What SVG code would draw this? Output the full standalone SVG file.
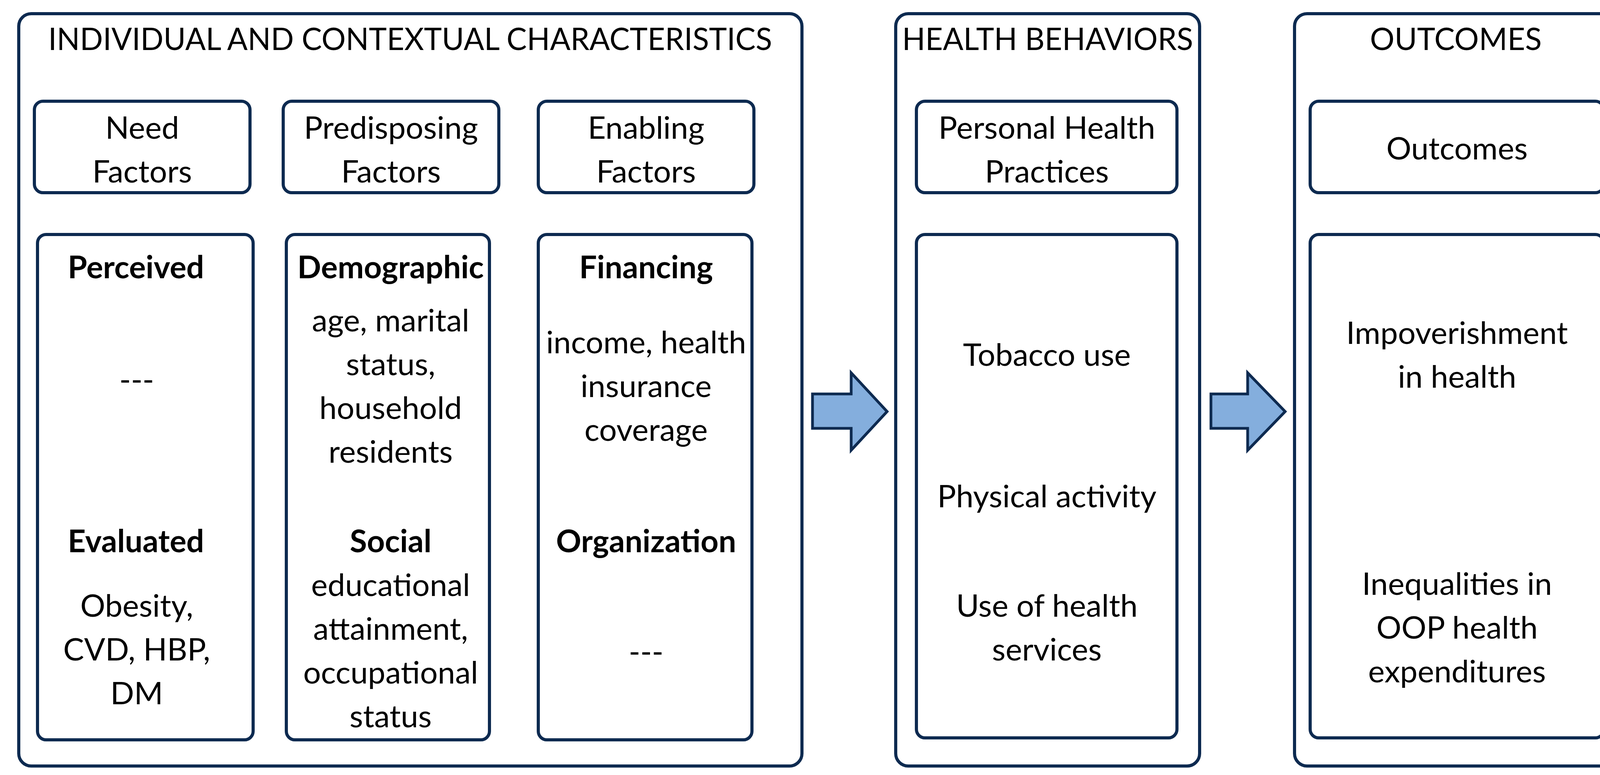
<svg xmlns="http://www.w3.org/2000/svg" width="4180" height="1983" viewBox="0 0 4180 1983">
<style>
.b{fill:#fff;stroke:#0d2a50;stroke-width:8}
.t{font-family:Lato,"Open Sans",sans-serif;font-size:80px;fill:#000;text-anchor:middle}
.h{font-weight:bold}
.ar{fill:#84aedd;stroke:#0d2a50;stroke-width:7}
</style>
<rect width="4180" height="1983" fill="#fff"/>
<g id="col1">
<rect class="b" x="48" y="35" width="2005" height="1925" rx="32"/>
<text class="t" x="1050" y="128" textLength="1853" lengthAdjust="spacingAndGlyphs">INDIVIDUAL AND CONTEXTUAL CHARACTERISTICS</text>
</g>
<g id="col2">
<rect class="b" x="2293" y="35" width="778" height="1925" rx="32"/>
<text class="t" x="2682" y="128" textLength="745" lengthAdjust="spacingAndGlyphs">HEALTH BEHAVIORS</text>
</g>
<g id="col3">
<rect class="b" x="3314" y="35" width="826" height="1925" rx="32"/>
<text class="t" x="3727" y="128" textLength="440" lengthAdjust="spacingAndGlyphs">OUTCOMES</text>
</g>
<g id="need">
<rect class="b" x="88" y="259" width="552" height="234" rx="22"/>
<text class="t" x="364" y="355">Need</text><text class="t" x="364" y="467">Factors</text>
</g>
<g id="predisposing">
<rect class="b" x="725" y="259" width="552" height="234" rx="22"/>
<text class="t" x="1001" y="355">Predisposing</text><text class="t" x="1001" y="467">Factors</text>
</g>
<g id="enabling">
<rect class="b" x="1378" y="259" width="552" height="234" rx="22"/>
<text class="t" x="1654" y="355">Enabling</text><text class="t" x="1654" y="467">Factors</text>
</g>
<g id="personal">
<rect class="b" x="2346" y="259" width="667" height="234" rx="22"/>
<text class="t" x="2680" y="355">Personal Health</text><text class="t" x="2680" y="467">Practices</text>
</g>
<g id="outcomes">
<rect class="b" x="3354" y="259" width="752" height="234" rx="22"/>
<text class="t" x="3730" y="408">Outcomes</text>
</g>
<g id="needDetail">
<rect class="b" x="96" y="600" width="552" height="1293" rx="22"/>
<text class="t h" x="348" y="712">Perceived</text>
<text class="t" x="350" y="1000">---</text>
<text class="t h" x="348" y="1413">Evaluated</text>
<text class="t" x="350" y="1578">Obesity,</text>
<text class="t" x="350" y="1690">CVD, HBP,</text>
<text class="t" x="350" y="1802">DM</text>
</g>
<g id="predDetail">
<rect class="b" x="733" y="600" width="520" height="1293" rx="22"/>
<text class="t h" x="1000" y="712">Demographic</text>
<text class="t" x="1000" y="848">age, marital</text>
<text class="t" x="1000" y="960">status,</text>
<text class="t" x="1000" y="1072">household</text>
<text class="t" x="1000" y="1184">residents</text>
<text class="t h" x="1000" y="1413">Social</text>
<text class="t" x="1000" y="1525">educational</text>
<text class="t" x="1000" y="1637">attainment,</text>
<text class="t" x="1000" y="1749">occupational</text>
<text class="t" x="1000" y="1861">status</text>
</g>
<g id="enabDetail">
<rect class="b" x="1378" y="600" width="547" height="1293" rx="22"/>
<text class="t h" x="1654" y="712">Financing</text>
<text class="t" x="1654" y="904">income, health</text>
<text class="t" x="1654" y="1016">insurance</text>
<text class="t" x="1654" y="1128">coverage</text>
<text class="t h" x="1654" y="1413">Organization</text>
<text class="t" x="1654" y="1696">---</text>
</g>
<g id="behDetail">
<rect class="b" x="2346" y="600" width="667" height="1288" rx="22"/>
<text class="t" x="2680" y="936">Tobacco use</text>
<text class="t" x="2680" y="1298">Physical activity</text>
<text class="t" x="2680" y="1578">Use of health</text>
<text class="t" x="2680" y="1690">services</text>
</g>
<g id="outDetail">
<rect class="b" x="3354" y="600" width="752" height="1288" rx="22"/>
<text class="t" x="3730" y="880">Impoverishment</text>
<text class="t" x="3730" y="992">in health</text>
<text class="t" x="3730" y="1522">Inequalities in</text>
<text class="t" x="3730" y="1634">OOP health</text>
<text class="t" x="3730" y="1746">expenditures</text>
</g>
<g id="connectors">
<polygon class="ar" points="2080,1008 2179,1008 2179,954 2271,1053 2179,1152 2179,1096 2080,1096"/>
<polygon class="ar" points="3100,1008 3194,1008 3194,954 3290,1053 3194,1152 3194,1096 3100,1096"/>
</g>
</svg>
